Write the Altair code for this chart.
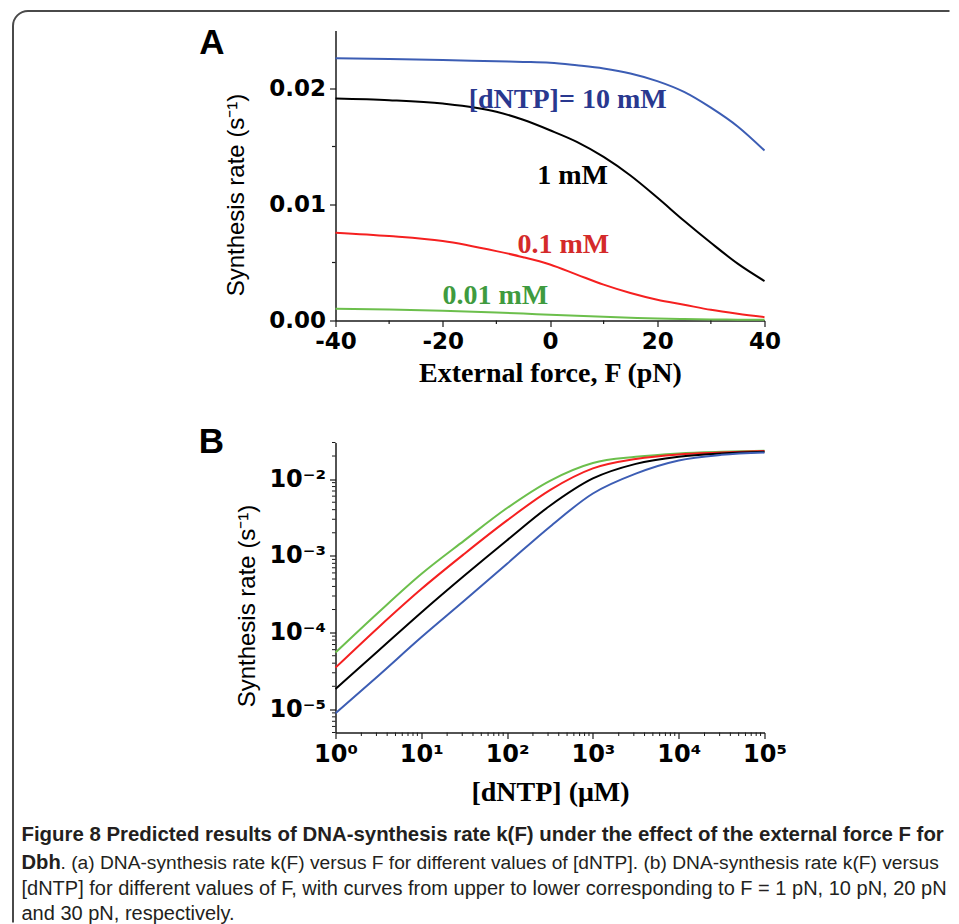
import altair as alt
import pandas as pd

# ---------------- Panel A: rate vs external force ----------------
force_pN = [-40, -30, -20, -10, -5, 0, 5, 10, 15, 20, 25, 30, 35, 40]
rate_10mM = [0.0226, 0.02254, 0.02246, 0.02234, 0.02229, 0.02222, 0.0220, 0.02173,
             0.0213, 0.02064, 0.01971, 0.01835, 0.01673, 0.01465]
rate_1mM = [0.01913, 0.01899, 0.01870, 0.0180, 0.0173, 0.0164, 0.0154, 0.0141,
            0.0125, 0.0106, 0.0086, 0.0067, 0.0049, 0.0034]
rate_01mM = [0.00757, 0.00728, 0.00685, 0.00598, 0.00546, 0.00483, 0.00396, 0.00309,
             0.00237, 0.00179, 0.00136, 0.00092, 0.00058, 0.00029]
rate_001mM = [0.00101, 0.00095, 0.00084, 0.00069, 0.0006, 0.00049, 0.0004, 0.00032,
              0.00024, 0.00017, 0.00012, 0.00009, 0.00007, 0.00006]
seriesA = ["10 mM", "1 mM", "0.1 mM", "0.01 mM"]
colorsA = ["#3c5db4", "#000000", "#f52020", "#6cbf4c"]
textColorsA = ["#29388f", "#000000", "#d42a2a", "#3f9b3f"]

labelA_text = ["[dNTP]= 10 mM", "1 mM", "0.1 mM", "0.01 mM"]
labelA_F = [3.3, 4.2, 2.5, -10.2]
labelA_rate = [0.0190, 0.0125, 0.00647, 0.00207]

a_x_ticks = [-40, -20, 0, 20, 40]
a_x_minor = [-30, -10, 10, 30]
a_y_ticks = [0.0, 0.01, 0.02]
a_y_minor = [0.005, 0.015]

# ---------------- Panel B: rate vs [dNTP] ----------------
dntp_uM = [1, 3.16, 10, 31.6, 100, 316, 1000, 3160, 10000, 31600, 100000]
rate_F1 = [5.5e-5, 1.83e-4, 5.8e-4, 1.58e-3, 4.2e-3, 9.5e-3, 1.62e-2, 1.95e-2, 2.16e-2, 2.27e-2, 2.34e-2]
rate_F10 = [3.5e-5, 1.17e-4, 3.7e-4, 1.06e-3, 2.9e-3, 7.2e-3, 1.38e-2, 1.83e-2, 2.10e-2, 2.22e-2, 2.32e-2]
rate_F20 = [1.84e-5, 5.8e-5, 1.83e-4, 5.5e-4, 1.6e-3, 4.5e-3, 1.02e-2, 1.58e-2, 1.96e-2, 2.16e-2, 2.27e-2]
rate_F30 = [8.9e-6, 2.75e-5, 8.7e-5, 2.6e-4, 7.9e-4, 2.4e-3, 6.5e-3, 1.18e-2, 1.75e-2, 2.07e-2, 2.22e-2]
seriesB = ["1 pN", "10 pN", "20 pN", "30 pN"]
colorsB = ["#6cbf4c", "#f52020", "#000000", "#3c5db4"]

b_x_ticks = [1, 10, 100, 1000, 10000, 100000]
b_x_minor = [m * 10 ** d for d in range(5) for m in range(2, 10)]
b_y_ticks = [1e-2, 1e-3, 1e-4, 1e-5]
b_y_minor = ([m * 1e-6 for m in range(5, 10)] + [m * 1e-5 for m in range(2, 10)] +
             [m * 1e-4 for m in range(2, 10)] + [m * 1e-3 for m in range(2, 10)] + [2e-2, 3e-2])

caption_l1 = "Figure 8 Predicted results of DNA-synthesis rate k(F) under the effect of the external force F for"
caption_l2a = "Dbh"
caption_l2b = ". (a) DNA-synthesis rate k(F) versus F for different values of [dNTP]. (b) DNA-synthesis rate k(F) versus"
caption_l3 = "[dNTP] for different values of F, with curves from upper to lower corresponding to F = 1 pN, 10 pN, 20 pN"
caption_l4 = "and 30 pN, respectively."

# ---------------- build tables ----------------
dfA = pd.DataFrame({
    "F": force_pN * 4,
    "rate": rate_10mM + rate_1mM + rate_01mM + rate_001mM,
    "series": sum([[s] * len(force_pN) for s in seriesA], []),
})
dfLabA = pd.DataFrame({"text": labelA_text, "F": labelA_F, "rate": labelA_rate, "series": seriesA})
dfB = pd.DataFrame({
    "c": dntp_uM * 4,
    "rate": rate_F1 + rate_F10 + rate_F20 + rate_F30,
    "series": sum([[s] * len(dntp_uM) for s in seriesB], []),
})
one = pd.DataFrame({"k": [0]})

W, H = 429, 290
AX = "#1a1a1a"
BORDER = "#4a4a4a"
TICKFONT = "DejaVu Sans"

common_axis = dict(labelFont=TICKFONT, labelFontWeight="bold", labelColor="black",
                   domainColor=AX, domainWidth=1.5, tickColor=AX, tickWidth=1.2,
                   tickSize=6, grid=False, labelFlush=False, labelOverlap=False,
                   titleColor="black")

scAx = alt.Scale(domain=[-40, 40], nice=False, zero=False)
scAy = alt.Scale(domain=[0, 0.025], nice=False, zero=False)

axAx = alt.Axis(values=a_x_ticks, labelExpr="'' + datum.value", labelFontSize=23, labelPadding=4,
                title="External force, F (pN)", titleFont="Liberation Serif",
                titleFontSize=28, titleFontWeight="bold", titleX=214.5, titleY=61,
                titleBaseline="alphabetic", titleAlign="center", **common_axis)
axAy = alt.Axis(values=a_y_ticks, format=".2f", labelFontSize=23, labelPadding=4,
                title="Synthesis rate (s⁻¹)", titleFont="Liberation Sans",
                titleFontSize=24, titleFontWeight="normal", titleX=-99, titleY=164,
                titleAngle=270, titleBaseline="middle", titleAlign="center", **common_axis)

linesA = alt.Chart(dfA).mark_line(strokeWidth=2, interpolate="monotone").encode(
    x=alt.X("F:Q", scale=scAx, axis=axAx),
    y=alt.Y("rate:Q", scale=scAy, axis=axAy),
    color=alt.Color("series:N", scale=alt.Scale(domain=seriesA, range=colorsA), legend=None),
)
minorAx = alt.Chart(pd.DataFrame({"F": a_x_minor})).mark_rule(color=AX, strokeWidth=1.2).encode(
    x=alt.X("F:Q", scale=scAx, axis=axAx), y=alt.value(H), y2=alt.value(H + 3.5))
minorAy = alt.Chart(pd.DataFrame({"rate": a_y_minor})).mark_rule(color=AX, strokeWidth=1.2).encode(
    y=alt.Y("rate:Q", scale=scAy, axis=axAy), x=alt.value(0), x2=alt.value(-3.5))
labelsA = alt.Chart(dfLabA).mark_text(font="Liberation Serif", fontSize=28, fontWeight="bold",
                                      align="center", baseline="middle").encode(
    x=alt.X("F:Q", scale=scAx, axis=axAx),
    y=alt.Y("rate:Q", scale=scAy, axis=axAy),
    text="text:N",
    color=alt.Color("series:N", scale=alt.Scale(domain=seriesA, range=textColorsA), legend=None),
)
letterA = alt.Chart(one).mark_text(text="A", font="Liberation Sans", fontSize=35, fontWeight="bold",
                                   align="center", baseline="alphabetic", color="black").encode(
    x=alt.value(-123.5), y=alt.value(23))
borderTop = alt.Chart(one).mark_rule(color=BORDER, strokeWidth=2).encode(
    x=alt.value(-307.5), x2=alt.value(614), y=alt.value(-19.5))
borderLeft = alt.Chart(one).mark_rule(color=BORDER, strokeWidth=2).encode(
    x=alt.value(-322.5), y=alt.value(-4.5), y2=alt.value(892))
borderCorner = alt.Chart(one).mark_arc(radius=16, radius2=14, theta=4.712389, theta2=6.283185,
                                       color=BORDER).encode(
    x=alt.value(-307.5), y=alt.value(-4.5))

chartA = alt.layer(linesA, minorAx, minorAy, labelsA, letterA, borderTop, borderLeft, borderCorner).resolve_scale(
    color="independent").properties(width=W, height=H)

# ---------------- Panel B chart ----------------
scBx = alt.Scale(type="log", domain=[1, 100000], nice=False)
scBy = alt.Scale(type="log", domain=[5e-6, 0.03], nice=False)

axBx = alt.Axis(values=b_x_ticks, labelFontSize=24, labelPadding=4,
                labelExpr="'10' + ['⁰','¹','²','³','⁴','⁵'][round(log(datum.value)/LN10)]",
                title="[dNTP] (μM)", titleFont="Liberation Serif", titleFontSize=28,
                titleFontWeight="bold", titleX=214.5, titleY=68, titleBaseline="alphabetic",
                titleAlign="center", **common_axis)
axBy = alt.Axis(values=b_y_ticks, labelFontSize=24, labelPadding=4,
                labelExpr="'10' + ['⁻²','⁻³','⁻⁴','⁻⁵'][round(-log(datum.value)/LN10) - 2]",
                title="Synthesis rate (s⁻¹)", titleFont="Liberation Sans", titleFontSize=24,
                titleFontWeight="normal", titleX=-88, titleY=163, titleAngle=270,
                titleBaseline="middle", titleAlign="center", **common_axis)

linesB = alt.Chart(dfB).mark_line(strokeWidth=2, interpolate="monotone").encode(
    x=alt.X("c:Q", scale=scBx, axis=axBx),
    y=alt.Y("rate:Q", scale=scBy, axis=axBy),
    color=alt.Color("series:N", scale=alt.Scale(domain=seriesB, range=colorsB), legend=None),
)
minorBx = alt.Chart(pd.DataFrame({"c": b_x_minor})).mark_rule(color=AX, strokeWidth=1).encode(
    x=alt.X("c:Q", scale=scBx, axis=axBx), y=alt.value(H), y2=alt.value(H + 3.5))
minorBy = alt.Chart(pd.DataFrame({"rate": b_y_minor})).mark_rule(color=AX, strokeWidth=1).encode(
    y=alt.Y("rate:Q", scale=scBy, axis=axBy), x=alt.value(0), x2=alt.value(-3.5))
letterB = alt.Chart(one).mark_text(text="B", font="Liberation Sans", fontSize=35, fontWeight="bold",
                                   align="center", baseline="alphabetic", color="black").encode(
    x=alt.value(-124), y=alt.value(10))

CAPF = "Liberation Sans"
CAPC = "#231f20"
def cap(txt, x, y, weight, size):
    return alt.Chart(one).mark_text(text=txt, font=CAPF, fontSize=size, fontWeight=weight,
                                    align="left", baseline="alphabetic", color=CAPC).encode(
        x=alt.value(x), y=alt.value(y))

captions = [
    cap(caption_l1, -314, 398, "bold", 20.4),
    cap(caption_l2a, -314, 426, "bold", 20.2),
    cap(caption_l2b, -275, 426, "normal", 19.2),
    cap(caption_l3, -314, 452, "normal", 20.0),
    cap(caption_l4, -314, 477, "normal", 20.0),
]

chartB = alt.layer(linesB, minorBx, minorBy, letterB, *captions).properties(width=W, height=H)

chart = alt.vconcat(chartA, chartB, spacing=122, bounds="flush").properties(
    padding={"left": 3.5, "top": 1.5, "right": 0, "bottom": 0}
).configure_view(strokeWidth=0)

chart.save("out.html", embed_options={"renderer": "svg", "actions": False})
